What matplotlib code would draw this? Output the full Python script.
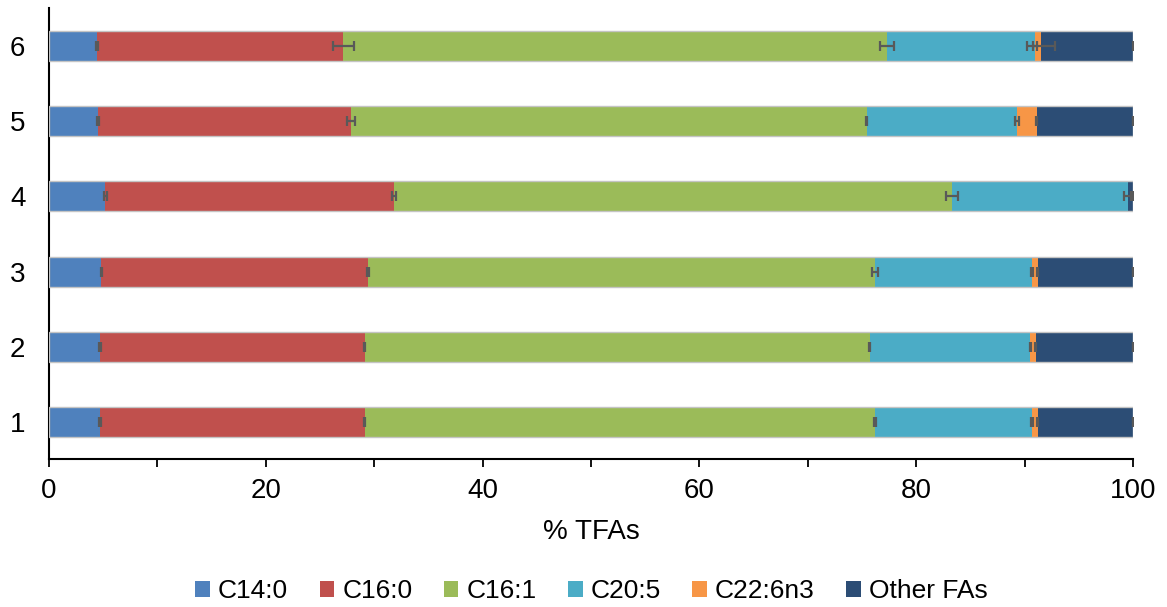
import numpy as np
import matplotlib
matplotlib.use("Agg")
import matplotlib.pyplot as plt

plt.rcParams['font.family'] = ['Liberation Sans', 'DejaVu Sans']

samples = ["1", "2", "3", "4", "5", "6"]
fatty_acids = ["C14:0", "C16:0", "C16:1", "C20:5", "C22:6n3", "Other FAs"]
colors = ["#4F81BD", "#C0504D", "#9BBB59", "#4BACC6", "#F79646", "#2C4D75"]

# Composition (% of total fatty acids) per sample, rows follow `samples`
c14_0 = [4.70, 4.70, 4.80, 5.19, 4.52, 4.40]
c16_0 = [24.41, 24.41, 24.62, 26.63, 23.33, 22.74]
c16_1 = [47.07, 46.58, 46.76, 51.46, 47.59, 50.17]
c20_5 = [14.48, 14.84, 14.48, 16.22, 13.83, 13.63]
c22_6n3 = [0.52, 0.47, 0.52, 0.00, 1.82, 0.56]
other = [8.82, 9.00, 8.82, 0.50, 8.91, 8.51]

# Standard deviations
c14_0_sd = [0.05, 0.05, 0.05, 0.12, 0.08, 0.10]
c16_0_sd = [0.08, 0.08, 0.08, 0.15, 0.37, 0.97]
c16_1_sd = [0.08, 0.08, 0.25, 0.58, 0.05, 0.65]
c20_5_sd = [0.08, 0.08, 0.08, 0.30, 0.20, 0.15]
c22_6n3_sd = [0.05, 0.05, 0.05, 0.00, 0.05, 1.27]
other_sd = [0.03, 0.03, 0.03, 0.05, 0.03, 0.03]

values = [c14_0, c16_0, c16_1, c20_5, c22_6n3, other]
errors = [c14_0_sd, c16_0_sd, c16_1_sd, c20_5_sd, c22_6n3_sd, other_sd]

fig = plt.figure(figsize=(11.67, 6.07), dpi=100)
ax = fig.add_axes([0.042, 0.243, 0.929, 0.743])

y = np.arange(len(samples))
bar_h = 0.4
left = np.zeros(len(samples))
handles = []
for name, vals, col in zip(fatty_acids, values, colors):
    vals = np.asarray(vals)
    h = ax.barh(y, vals, height=bar_h, left=left, color=col, edgecolor='none',
                label=name, zorder=2)
    handles.append(h)
    left = left + vals

# light outline around each stacked bar
ax.barh(y, left, height=bar_h, left=0, facecolor='none', edgecolor='#c4c4c4',
        linewidth=1.0, zorder=3)

# error bars at the end of each segment
left = np.zeros(len(samples))
for vals, err in zip(values, errors):
    vals = np.asarray(vals)
    ends = left + vals
    mask = vals > 0
    ax.errorbar(ends[mask], y[mask], xerr=np.asarray(err)[mask], fmt='none',
                ecolor='#595959', elinewidth=1.6, capsize=3.5, capthick=1.6,
                zorder=4)
    left = ends

ax.set_xlim(0, 100)
ax.set_ylim(-0.5, len(samples) - 0.5)
ax.set_yticks(y)
ax.set_yticklabels(samples)
ax.set_xticks(np.arange(0, 101, 20))
ax.set_xticks(np.arange(10, 100, 20), minor=True)

for s in ['top', 'right']:
    ax.spines[s].set_visible(False)
for s in ['left', 'bottom']:
    ax.spines[s].set_linewidth(1.5)
    ax.spines[s].set_color('black')

ax.tick_params(axis='x', which='both', direction='out', length=6, width=1.3,
               labelsize=20, pad=7, color='black')
ax.tick_params(axis='y', length=0, labelsize=20, pad=17)
ax.set_xlabel('% TFAs', fontsize=20, labelpad=11)

fig.legend(handles=handles, labels=fatty_acids, loc='center',
           bbox_to_anchor=(591.5 / 1167, 1 - 591 / 607), ncol=6, frameon=False,
           fontsize=19, handlelength=0.55, handleheight=0.55, handletextpad=0.3,
           columnspacing=1.2)

fig.savefig('out.png', dpi=100)
